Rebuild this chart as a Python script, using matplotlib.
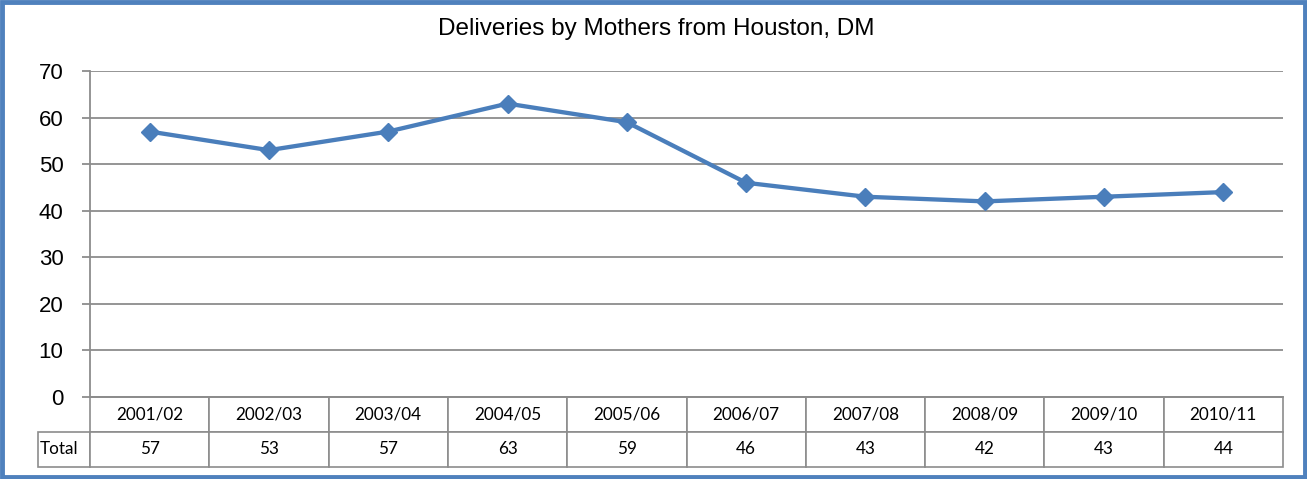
import matplotlib.pyplot as plt
from matplotlib.patches import Rectangle

# Data
seasons = ["2001/02", "2002/03", "2003/04", "2004/05", "2005/06",
           "2006/07", "2007/08", "2008/09", "2009/10", "2010/11"]
totals = [57, 53, 57, 63, 59, 46, 43, 42, 43, 44]
y_ticks = [0, 10, 20, 30, 40, 50, 60, 70]
row_label = "Total"

W, H = 1307, 479
fig = plt.figure(figsize=(W / 100, H / 100), dpi=100)

# plot area in pixels
left_px, right_px = 90, 1283
top_px, bottom_px = 71, 397
ax = fig.add_axes([left_px / W, 1 - bottom_px / H,
                   (right_px - left_px) / W, (bottom_px - top_px) / H])

grid_col = "#8c8c8c"
line_col = "#4A7EBB"

x = list(range(len(seasons)))
ax.plot(x, totals, color=line_col, lw=3.1, marker="D", markersize=9,
        markerfacecolor=line_col, markeredgecolor=line_col, zorder=3)

ax.set_xlim(-0.5, len(seasons) - 0.5)
ax.set_ylim(0, 70)
ax.set_yticks(y_ticks)
ax.set_xticks([])
ax.yaxis.grid(True, color=grid_col, lw=1.3)
ax.set_axisbelow(True)
for s in ["top", "right"]:
    ax.spines[s].set_visible(False)
ax.spines["left"].set_color(grid_col)
ax.spines["left"].set_linewidth(1.3)
ax.spines["bottom"].set_color(grid_col)
ax.spines["bottom"].set_linewidth(1.3)
ax.tick_params(axis="y", length=6, width=1.3, color=grid_col, pad=13,
               labelsize=16)
for lab in ax.get_yticklabels():
    lab.set_fontfamily("Liberation Sans")

# data table under the axes
axw = right_px - left_px
axh = bottom_px - top_px
lab_w = 52
cell_text = [[""] + seasons, [row_label] + [str(v) for v in totals]]
col_w = [lab_w / axw] + [1 / len(seasons)] * len(seasons)
tbl = ax.table(cellText=cell_text, colWidths=col_w, cellLoc="center",
               bbox=[-lab_w / axw, -70 / axh, 1 + lab_w / axw, 70 / axh])
tbl.auto_set_font_size(False)
for (r, c), cell in tbl.get_celld().items():
    cell.set_edgecolor(grid_col)
    cell.set_linewidth(1.2)
    cell.get_text().set_fontsize(12.3)
    cell.get_text().set_fontfamily("Lato")
    if r == 0 and c == 0:
        cell.visible_edges = ""
    if r == 1 and c == 0:
        cell.get_text().set_ha("left")
        cell.PAD = 0.04

fig.text(656 / W, 1 - 29 / H, "Deliveries by Mothers from Houston, DM",
         ha="center", va="center", fontsize=17.5, family="Liberation Sans")

# outer blue frame
fig.patches.append(Rectangle((2 / W, 2 / H), 1 - 4 / W, 1 - 4 / H,
                             transform=fig.transFigure, fill=False,
                             edgecolor="#4F81BD", lw=3.5))

fig.savefig("out.png", dpi=100)
